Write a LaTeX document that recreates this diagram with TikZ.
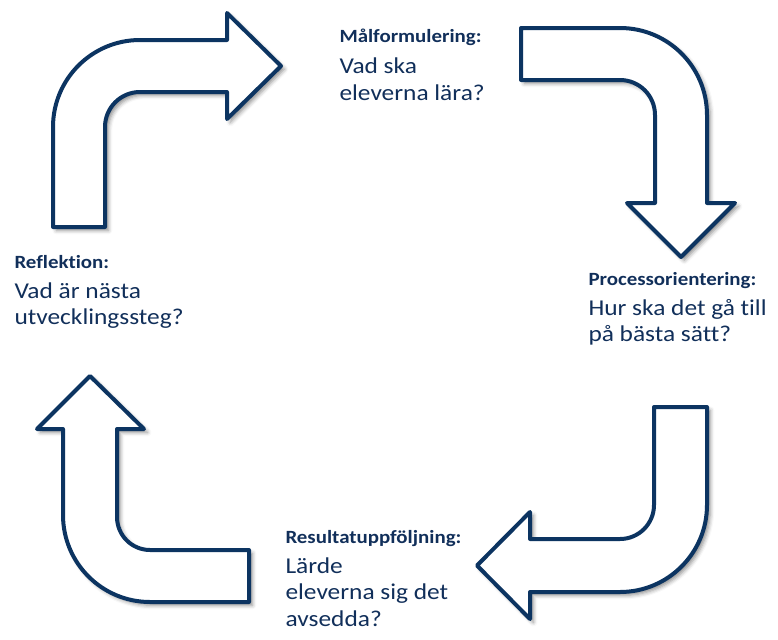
\documentclass[tikz,border=0pt]{standalone}
\usepackage{fontspec}
\setmainfont{Carlito}[FakeStretch=1.12, Ligatures=NoCommon]
\usetikzlibrary{shadows.blur}

\definecolor{arrowblue}{RGB}{12,52,97}
\definecolor{textblue}{RGB}{17,47,90}

\tikzset{every picture/.style={line width=0.75pt}}
\tikzset{
  bentarrow/.style={draw=arrowblue, fill=white, line width=3pt, line join=round,
    blur shadow={shadow xshift=2.5pt, shadow yshift=-2.5pt, shadow blur radius=3pt, shadow opacity=45}},
  headtext/.style={anchor=base west, inner sep=0pt, text=textblue, font=\fontsize{14}{16}\selectfont\bfseries},
  bodytext/.style={anchor=base west, inner sep=0pt, text=textblue, align=left, font=\fontsize{17}{20}\selectfont}
}

\begin{document}
\begin{tikzpicture}[x=0.75pt,y=0.75pt,yscale=-1,xscale=1]
\useasboundingbox (0,0) rectangle (778,639);

%Shape: Bent Arrow (up, then right)
\draw [bentarrow] (53,227) -- (53,127) arc (180:270:87) -- (227,40) -- (227,13) -- (281,66) -- (227,119) -- (227,92) -- (140,92) arc (270:180:35) -- (105,227) -- cycle ;
%Shape: Bent Arrow (right, then down)
\draw [bentarrow] (521,28) -- (620,28) arc (270:360:87) -- (707,203) -- (735,203) -- (681,257) -- (627,203) -- (655,203) -- (655,115) arc (360:270:35) -- (521,80) -- cycle ;
%Shape: Bent Arrow (down, then left)
\draw [bentarrow] (654,407) -- (707,407) -- (707,505) arc (0:90:87) -- (530,592) -- (530,619) -- (477,565.5) -- (530,512) -- (530,539) -- (620,539) arc (90:0:34) -- cycle ;
%Shape: Bent Arrow (left, then up)
\draw [bentarrow] (249,602) -- (150,602) arc (90:180:87) -- (63,429) -- (37,429) -- (90,376) -- (144,429) -- (117,429) -- (117,517) arc (180:90:33) -- (249,550) -- cycle ;

% Text Node
\node [headtext] (goalhead) at (339,42.7) {Målformulering:};
% Text Node (base = last line)
\node [bodytext] (goalbody) at (339,100) {Vad ska\\eleverna lära?};
% Text Node
\node [headtext] (processhead) at (588,285) {Processorientering:};
% Text Node
\node [bodytext] (processbody) at (588,341.7) {Hur ska det gå till\\på bästa sätt?};
% Text Node
\node [headtext] (resulthead) at (285,543) {Resultatuppföljning:};
% Text Node
\node [bodytext] (resultbody) at (285,626.4) {Lärde\\eleverna sig det\\avsedda?};
% Text Node
\node [headtext] (reflecthead) at (14,268) {Reflektion:};
% Text Node
\node [bodytext] (reflectbody) at (14,324.7) {Vad är nästa\\utvecklingssteg?};

\end{tikzpicture}
\end{document}
